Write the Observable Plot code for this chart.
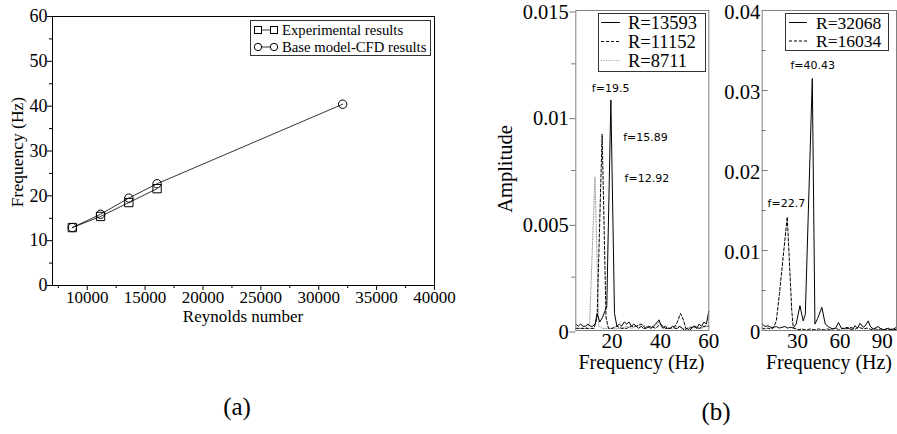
<!DOCTYPE html>
<html><head><meta charset="utf-8">
<script src="https://cdn.jsdelivr.net/npm/d3@7"></script>
<script src="https://cdn.jsdelivr.net/npm/@observablehq/plot@0.6"></script>
<style>
body{margin:0;background:#fff;}
#root{position:relative;width:897px;height:434px;overflow:hidden;background:#fff;}
#root svg text{font-family:"Liberation Serif","Times New Roman",serif;}
#root svg text.sans, #root svg g.sans text{font-family:"DejaVu Sans",sans-serif;}
</style></head><body><div id="root"></div>
<script>
// ---------- Panel (a) data ----------
const reynolds = [8711, 11152, 13593, 16034, 32068];
const expFreq = [12.92, 15.4, 18.5, 21.6];
const cfdFreq = [12.92, 15.89, 19.5, 22.7, 40.43];
const reTicks = [10000, 15000, 20000, 25000, 30000, 35000, 40000];
const reTicksMinor = [7500, 12500, 17500, 22500, 27500, 32500, 37500];
const fTicks = [0, 10, 20, 30, 40, 50, 60];
const fTicksMinor = [5, 15, 25, 35, 45, 55];
const legendA = ["Experimental results", "Base model-CFD results"];

// ---------- Panel (b) left: spectra ----------
const s13593F = [5,6,7,8,9,10,11,12,13,13.8,14.9,16,17,17.8,19.5,21,22,23,24,25,26,27,28,29,30,31,32,33,34,35,36,37,38,39.4,40,41,42,43,44,45,46,47,48,49,50,51,52,53,54,55,56,57,58,59,60];
const s13593A = [.0003,.0002,.0003,.0002,.0002,.0003,.0002,.0002,.0003,.0008,.0004,.0006,.0009,.0011,.0108,.0008,.0002,.0003,.0002,.0004,.0003,.0004,.0002,.0003,.0002,.0001,.0002,.0001,.0001,.0002,.0001,.0002,.0003,.0005,.0003,.0001,.0002,.0001,.0001,.0002,.0001,.0001,.0002,.0001,.0000,.0001,.0000,.0001,.0002,.0001,.0003,.0002,.0004,.0003,.0009];
const s11152F = [5,7,9,11,12.5,13.8,15.89,17.5,18.5,20,22,24,26,28,30,32,34,36,38,40,42,44,46,47,48.3,49.5,50.5,52,54,56,58,60];
const s11152A = [.0001,.0001,.0001,.0001,.0001,.0006,.0092,.0006,.0001,.0001,.0002,.0001,.0001,.0002,.0002,.0003,.0001,.0002,.0001,.0003,.0001,.0001,.0002,.0004,.0008,.0005,.0001,.0001,.0002,.0001,.0002,.0002];
const s8711F = [5,7,9,10.7,12.92,14.5,16,18,20,22,24,26,28,30,32,34,36,38,39.5,41,43,45,47,49,51,53,55,57,59,60];
const s8711A = [.0001,.0001,.0001,.0003,.0072,.0002,.0001,.0001,.0001,.0001,.0001,.0002,.0001,.0002,.0003,.0002,.0001,.0002,.0004,.0002,.0001,.0001,.0002,.0001,.0001,.0002,.0001,.0001,.0002,.0002];
const legendB1 = ["R=13593", "R=11152", "R=8711"];
const ampTicksL = [0, 0.005, 0.01, 0.015];
const ampTicksLMinor = [0.0025, 0.0075, 0.0125];
const freqTicksL = [20, 40, 60];
const annotL = [{t:"f=19.5", f:19.4, a:0.01134},{t:"f=15.89", f:33.8, a:0.00906},{t:"f=12.92", f:34.4, a:0.00711}];

// ---------- Panel (b) right ----------
const s32068F = [5,7,9,11,13,15,17,19,21,23,25,27,29,31.7,34,35.5,40.43,42.3,44.2,47.2,49.6,52.4,54.8,57,58.9,61,63,65,67,69,70.6,72.5,74.2,76.5,78,80,81.5,83.5,85,86.9,89,91,93,94.1,96,98,100];
const s32068A = [.0008,.0005,.0006,.0004,.0004,.0005,.0003,.0004,.0005,.0003,.0004,.0003,.0008,.0031,.0012,.0020,.0315,.0008,.0015,.0029,.0008,.0004,.0002,.0003,.0010,.0003,.0002,.0004,.0002,.0001,.0006,.0003,.0009,.0004,.0006,.0012,.0005,.0002,.0003,.0005,.0002,.0001,.0002,.0003,.0001,.0002,.0004];
const s16034F = [5,7,9,11,12.8,15,17.2,19.6,22.7,24.2,25.9,27,29,31,33,35,37,39,41,43,45,47,49,51,53,55,57,59,61,63,65,67,69,71,73,75,77,79,81,83,85,87,89,91,93,95,97,100];
const s16034A = [.0003,.0002,.0003,.0002,.0003,.0012,.0046,.0088,.0142,.0088,.0025,.0003,.0002,.0001,.0002,.0001,.0001,.0002,.0001,.0001,.0002,.0001,.0001,.0002,.0001,.0002,.0003,.0001,.0002,.0003,.0002,.0004,.0003,.0002,.0004,.0003,.0002,.0003,.0002,.0001,.0002,.0001,.0002,.0001,.0002,.0001,.0002,.0001];
const legendB2 = ["R=32068", "R=16034"];
const ampTicksR = [0, 0.01, 0.02, 0.03, 0.04];
const ampTicksRMinor = [0.005, 0.015, 0.025, 0.035];
const freqTicksR = [30, 60, 90];
const annotR = [{t:"f=40.43", f:40.75, a:0.0331},{t:"f=22.7", f:22.1, a:0.0159}];

const SERIF = "Liberation Serif";
const SANS = "DejaVu Sans";
const root = document.getElementById("root");
function place(svg, left, top) {
  svg.style.position = "absolute";
  svg.style.left = left + "px";
  svg.style.top = top + "px";
  root.appendChild(svg);
}
const baseStyle = {background: "transparent", color: "#000", maxWidth: "none", overflow: "visible"};
const blank = () => "";

// ---------- Plot (a) ----------
const rowsExp = expFreq.map((f, i) => ({re: reynolds[i], f}));
const rowsCfd = cfdFreq.map((f, i) => ({re: reynolds[i], f}));
const plotA = Plot.plot({
  width: 470, height: 330,
  marginLeft: 52, marginRight: 36, marginTop: 16, marginBottom: 45,
  style: baseStyle,
  x: {domain: [7000, 40000]},
  y: {domain: [0, 60]},
  marks: [
    Plot.axisX({ticks: reTicksMinor, tickSize: 3, tickFormat: blank, label: null}),
    Plot.axisX({ticks: reTicks, tickSize: 5, tickPadding: 0, tickFormat: d => String(d), fontSize: 17, fontFamily: SERIF, label: null}),
    Plot.axisY({ticks: fTicksMinor, tickSize: 3, tickFormat: blank, label: null}),
    Plot.axisY({ticks: fTicks, tickSize: 5, tickPadding: 0, tickFormat: d => String(d), fontSize: 18, fontFamily: SERIF, label: null}),
    Plot.frame({stroke: "#000", strokeWidth: 1}),
    Plot.line(rowsExp, {x: "re", y: "f", stroke: "#000", strokeWidth: 0.8}),
    Plot.line(rowsCfd, {x: "re", y: "f", stroke: "#000", strokeWidth: 0.8}),
    Plot.dot(rowsExp, {x: "re", y: "f", symbol: "square", r: 4.7, stroke: "#000", fill: "none", strokeWidth: 1}),
    Plot.dot(rowsCfd, {x: "re", y: "f", symbol: "circle", r: 4.2, stroke: "#000", fill: "none", strokeWidth: 1})
  ]
});
place(plotA, 0, 0);

// ---------- Spectra ----------
const rows = (F, A) => F.map((f, i) => ({f, a: A[i]}));
const solid = {stroke: "#000", strokeWidth: 1};
const dashed = {stroke: "#000", strokeWidth: 1, strokeDasharray: "3,2"};
const dotted = {stroke: "#999", strokeWidth: 1, strokeDasharray: "1,1.5"};

const plotB1 = Plot.plot({
  width: 250, height: 370,
  marginLeft: 105.3, marginRight: 11.7, marginTop: 10, marginBottom: 40,
  style: baseStyle,
  x: {domain: [5, 60]},
  y: {domain: [0, 0.015]},
  marks: [
    Plot.axisY({ticks: ampTicksLMinor, tickSize: 4, stroke: "#777", tickFormat: blank, label: null}),
    Plot.axisY({ticks: ampTicksL, tickSize: 6, tickPadding: 1, stroke: "#777", tickFormat: d => String(d), fontSize: 20.5, dy: 1.5, fontFamily: SERIF, label: null}),
    Plot.axisX({ticks: freqTicksL, tickSize: 0, tickPadding: 3, tickFormat: d => String(d), fontSize: 21, fontFamily: SERIF, label: null}),
    Plot.line(rows(s8711F, s8711A), {x: "f", y: "a", ...dotted}),
    Plot.line(rows(s11152F, s11152A), {x: "f", y: "a", ...dashed}),
    Plot.line(rows(s13593F, s13593A), {x: "f", y: "a", ...solid}),
    Plot.frame({stroke: "#808080", strokeWidth: 1}),
    Plot.text(annotL, {x: "f", y: "a", text: "t", fontFamily: SANS, fontSize: 11, fill: "#000", className: "sans"})
  ]
});
place(plotB1, 470, 0);

const plotB2 = Plot.plot({
  width: 182, height: 370,
  marginLeft: 46.7, marginRight: 1, marginTop: 10, marginBottom: 40,
  style: baseStyle,
  x: {domain: [5, 100]},
  y: {domain: [0, 0.04]},
  marks: [
    Plot.axisY({ticks: ampTicksRMinor, tickSize: -4, stroke: "#777", tickFormat: blank, label: null}),
    Plot.axisY({ticks: ampTicksR, tickSize: -6, stroke: "#777", tickFormat: blank, label: null}),
    Plot.axisY({ticks: ampTicksR, tickSize: 0, tickPadding: 2, tickFormat: d => String(d), fontSize: 20.5, dy: 1.5, fontFamily: SERIF, label: null}),
    Plot.axisX({ticks: freqTicksR, tickSize: 0, tickPadding: 3, tickFormat: d => String(d), fontSize: 21, fontFamily: SERIF, label: null}),
    Plot.line(rows(s16034F, s16034A), {x: "f", y: "a", ...dashed}),
    Plot.line(rows(s32068F, s32068A), {x: "f", y: "a", ...solid}),
    Plot.frame({stroke: "#808080", strokeWidth: 1}),
    Plot.text(annotR, {x: "f", y: "a", text: "t", fontFamily: SANS, fontSize: 11, fill: "#000", className: "sans"})
  ]
});
place(plotB2, 715, 0);

// ---------- Overlay: legends, titles ----------
const ov = d3.create("svg").attr("width", 897).attr("height", 434)
  .style("position", "absolute").style("left", "0px").style("top", "0px").style("pointer-events", "none");
function txt(x, y, s, size, opts = {}) {
  const t = ov.append("text").attr("x", x).attr("y", y).text(s)
    .attr("font-family", SERIF).attr("font-size", size)
    .attr("text-anchor", opts.anchor || "middle").attr("dominant-baseline", "central").attr("fill", "#000");
  if (opts.rotate) t.attr("transform", `rotate(${opts.rotate},${x},${y})`);
  return t;
}
// axis titles
txt(243, 316, "Reynolds number", 17);
txt(17, 152, "Frequency (Hz)", 17.5, {rotate: -90});
txt(505, 169, "Amplitude", 20.5, {rotate: -90});
txt(641.5, 362, "Frequency (Hz)", 20);
txt(829, 362, "Frequency (Hz)", 20);
txt(237, 406, "(a)", 25);
txt(716, 411, "(b)", 25);

// legend (a)
ov.append("rect").attr("x", 250.5).attr("y", 20.5).attr("width", 180).attr("height", 35).attr("fill", "#fff").attr("stroke", "#333");
[30, 47].forEach((y, i) => {
  ov.append("line").attr("x1", 258).attr("x2", 274).attr("y1", y).attr("y2", y).attr("stroke", "#000").attr("stroke-width", 0.8);
  [258, 274].forEach(x => {
    if (i === 0) ov.append("rect").attr("x", x - 3.5).attr("y", y - 3.5).attr("width", 7).attr("height", 7).attr("fill", "#fff").attr("stroke", "#000");
    else ov.append("circle").attr("cx", x).attr("cy", y).attr("r", 3.7).attr("fill", "#fff").attr("stroke", "#000");
  });
  txt(282, y, legendA[i], 14.7, {anchor: "start"});
});

// legend (b) left
ov.append("rect").attr("x", 598.5).attr("y", 13.5).attr("width", 107).attr("height", 58).attr("fill", "#fff").attr("stroke", "#333");
const stylesL = [solid, dashed, dotted];
[22.5, 41.5, 60.5].forEach((y, i) => {
  const s = stylesL[i];
  ov.append("line").attr("x1", 601).attr("x2", 620).attr("y1", y).attr("y2", y)
    .attr("stroke", s.stroke).attr("stroke-width", 1).attr("stroke-dasharray", s.strokeDasharray || null);
  txt(628, y, legendB1[i], 18.5, {anchor: "start"});
});
// legend (b) right
ov.append("rect").attr("x", 785.5).attr("y", 13.5).attr("width", 103).attr("height", 37).attr("fill", "#fff").attr("stroke", "#333");
const stylesR = [solid, dashed];
[22.5, 41].forEach((y, i) => {
  const s = stylesR[i];
  ov.append("line").attr("x1", 789).attr("x2", 807).attr("y1", y).attr("y2", y)
    .attr("stroke", s.stroke).attr("stroke-width", 1).attr("stroke-dasharray", s.strokeDasharray || null);
  txt(816, y, legendB2[i], 17.5, {anchor: "start"});
});
root.appendChild(ov.node());
</script></body></html>
